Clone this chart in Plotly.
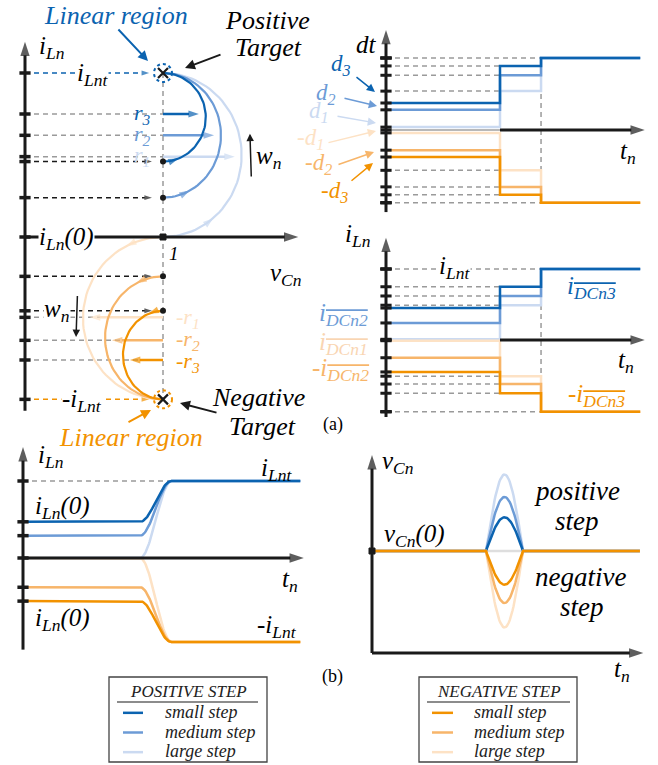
import numpy as np
import plotly.graph_objects as go

W, H = 658, 765
SERIF = "Liberation Serif, DejaVu Serif, serif"
BLUE = ['#0b63b0', '#6c9bd6', '#cbdaf1']      # small, medium, large step
ORANGE = ['#f29200', '#f7b56a', '#fde2c5']
GREY = '#9a9a9a'
AX = '#1a1a1a'
DASH = '5px,4px'
STEP_NAMES = ['small step', 'medium step', 'large step']
LEGEND_TITLES = ['POSITIVE STEP', 'NEGATIVE STEP']
M = 25     # math label size
WD = 26    # word label size

# ---------------- (a) phase plane ----------------
v_target = 1.0
i_target = 1.0
i_target_neg = -0.99
pos_start = [0.46, 0.24, 0.0]
pos_r = [0.75, 0.62, 0.49]
pos_rx = [0.31, 0.42, 0.57]
neg_start = [-0.45, -0.24, 0.0]
neg_r = [-0.75, -0.63, -0.49]
neg_rx = [0.29, 0.42, 0.58]
pos_r_labels = ['r<sub>3</sub>', 'r<sub>2</sub>', 'r<sub>1</sub>']
neg_r_labels = ['-r<sub>3</sub>', '-r<sub>2</sub>', '-r<sub>1</sub>']

# ---------------- (a) dt steps ----------------
t_steps = [0.0, 1.0, 1.36, 2.23]
dt_pos = [[0.375, 0.89, 1.0], [0.28, 0.76, 1.0], [0.04, 0.54, 1.0]]
dt_neg = [[-0.375, -0.90, -1.01], [-0.28, -0.79, -1.01], [-0.04, -0.56, -1.01]]

# ---------------- (a) iLn steps ----------------
iL_pos = [[0.45, 0.75, 1.0], [0.24, 0.62, 1.0], [0.01, 0.49, 1.0]]
iL_neg = [[-0.45, -0.75, -1.01], [-0.25, -0.62, -1.01], [-0.01, -0.51, -1.01]]

# ---------------- (b) time responses ----------------
t_rise = [1.0, 1.27]
t_end_b1 = 2.37
iLb_pos_init = [0.47, 0.29, 0.0]
iLb_neg_init = [-0.56, -0.38, 0.0]
iLb_pos_final = 1.0
iLb_neg_final = -1.09

t_bump = [1.0, 1.325]
t_end_b2 = 2.35
vC0 = 1.0
vC_pos_peak = [1.33, 1.53, 1.75]
vC_neg_peak = [0.67, 0.49, 0.25]

# panel geometry (pixel box, origin and unit in px)
panels = {
    1: dict(box=(0, 0, 330, 450), ox=25, ux=138, oy=237, uy=164),
    2: dict(box=(300, 0, 658, 222), ox=386, ux=114, oy=130, uy=72),
    3: dict(box=(300, 226, 658, 440), ox=386, ux=114, oy=340, uy=71),
    4: dict(box=(0, 442, 325, 662), ox=23, ux=117, oy=558, uy=77),
    5: dict(box=(330, 442, 658, 672), ox=372, ux=114, oy=653, uy=102),
}

fig = go.Figure()
axes_layout = {}
for p, d in panels.items():
    l, t, r, b = d['box']
    s = '' if p == 1 else str(p)
    axes_layout['xaxis' + s] = dict(domain=[l / W, r / W],
                                     range=[(l - d['ox']) / d['ux'], (r - d['ox']) / d['ux']],
                                     visible=False, anchor='y' + s, fixedrange=True)
    axes_layout['yaxis' + s] = dict(domain=[1 - b / H, 1 - t / H],
                                     range=[(d['oy'] - b) / d['uy'], (d['oy'] - t) / d['uy']],
                                     visible=False, anchor='x' + s, fixedrange=True)

# legend key axes (categorical rows)
legend_geo = {6: dict(sw=(123, 143), box=(109, 677, 267, 762), text_x=164, title_x=188, ul=(117, 258)),
              7: dict(sw=(432, 453), box=(419, 677, 577, 762), text_x=473, title_x=499, ul=(427, 570))}
for p, g in legend_geo.items():
    axes_layout['xaxis%d' % p] = dict(domain=[g['sw'][0] / W, g['sw'][1] / W], range=[0, 1],
                                      visible=False, anchor='y%d' % p, fixedrange=True)
    axes_layout['yaxis%d' % p] = dict(domain=[1 - 762 / H, 1 - 703 / H], type='category',
                                      categoryorder='array', categoryarray=STEP_NAMES[::-1],
                                      range=[-0.5, 2.5], visible=False, anchor='x%d' % p,
                                      fixedrange=True)


def ax_id(p):
    return ('x', 'y') if p == 1 else ('x%d' % p, 'y%d' % p)


def add_line(p, x, y, color, width=2.0, dash='solid', arrow_idx=None, arrow_size=10,
             shape='linear', **kw):
    xa, ya = ax_id(p)
    x = list(x)
    y = list(y)
    if arrow_idx is not None:
        sizes = [0] * len(x)
        idx = arrow_idx if arrow_idx >= 0 else len(x) + arrow_idx
        sizes[idx] = arrow_size
        mode = 'lines+markers'
        marker = dict(symbol='arrow', size=sizes, angleref='previous', color=color,
                      line=dict(width=0))
    else:
        mode = 'lines'
        marker = None
    fig.add_trace(go.Scatter(x=x, y=y, xaxis=xa, yaxis=ya, mode=mode,
                             line=dict(color=color, width=width, dash=dash, shape=shape),
                             marker=marker, hoverinfo='skip', showlegend=False, **kw))


def add_marks(p, x, y, symbol='line-ew', size=8, width=3.5, color=AX):
    xa, ya = ax_id(p)
    fig.add_trace(go.Scatter(x=list(x), y=list(y), xaxis=xa, yaxis=ya, mode='markers',
                             marker=dict(symbol=symbol, size=size, color=color,
                                         line=dict(width=width, color=color)),
                             hoverinfo='skip', showlegend=False))


annotations = []


def txt(s, x, y, size=M, color='black', bg=None, xanchor='center', yanchor='middle'):
    a = dict(text=s, x=x / W, y=1 - y / H, xref='paper', yref='paper', showarrow=False,
             font=dict(family=SERIF, size=size, color=color), xanchor=xanchor, yanchor=yanchor,
             borderpad=0)
    if bg:
        a['bgcolor'] = bg
    annotations.append(a)


def parrow(x0, y0, x1, y1, color, width=1.5, size=1.0):
    annotations.append(dict(x=x1 / W, y=1 - y1 / H, xref='paper', yref='paper',
                            ax=x0 - x1, ay=y0 - y1, axref='pixel', ayref='pixel', text='',
                            showarrow=True, arrowhead=2, arrowsize=size, arrowwidth=width,
                            arrowcolor=color, standoff=0, startstandoff=0))


def darrow(p, x0, y0, x1, y1, color=AX, width=1.5):
    xa, ya = ax_id(p)
    annotations.append(dict(x=x1, y=y1, ax=x0, ay=y0, xref=xa, yref=ya, axref=xa, ayref=ya,
                            text='', showarrow=True, arrowhead=2, arrowsize=1, arrowwidth=width,
                            arrowcolor=color, standoff=0, startstandoff=0))


# ======================= Panel 1: phase plane =======================
add_line(1, [v_target, v_target], [i_target, i_target_neg], GREY, 1.5, DASH)
for k in range(3):
    add_line(1, [0, v_target], [pos_r[k]] * 2, GREY, 1.5, DASH)
    add_line(1, [0, v_target], [neg_r[k]] * 2, GREY, 1.5, DASH)
for k in range(2):
    add_line(1, [0, v_target - 0.08], [pos_start[k]] * 2, AX, 1.5, DASH, arrow_idx=-1, arrow_size=8)
    add_line(1, [0, v_target - 0.08], [neg_start[k]] * 2, AX, 1.5, DASH, arrow_idx=-1, arrow_size=8)
add_line(1, [0, v_target - 0.1], [i_target] * 2, BLUE[0], 1.5, DASH, arrow_idx=-1, arrow_size=8)
add_line(1, [0, v_target - 0.1], [i_target_neg] * 2, ORANGE[0], 1.5, DASH, arrow_idx=-1, arrow_size=8)

theta = np.linspace(-np.pi / 2, np.pi / 2, 60)
pos_arrow_idx = [7, 9, 13]
neg_arrow_idx = [7, 9, 9]
for k in [2, 1, 0]:
    c = (pos_start[k] + i_target) / 2
    ry = (i_target - pos_start[k]) / 2
    add_line(1, v_target + pos_rx[k] * np.cos(theta), c + ry * np.sin(theta), BLUE[k], 2.2,
             arrow_idx=pos_arrow_idx[k], arrow_size=11)
    add_line(1, [v_target, v_target + pos_rx[k] - 0.05], [pos_r[k]] * 2, BLUE[k], 2.5,
             arrow_idx=-1, arrow_size=11)
for k in [2, 1, 0]:
    c = (neg_start[k] + i_target_neg) / 2
    ry = (neg_start[k] - i_target_neg) / 2
    add_line(1, v_target - neg_rx[k] * np.cos(theta), c - ry * np.sin(theta), ORANGE[k], 2.2,
             arrow_idx=neg_arrow_idx[k], arrow_size=11)
    add_line(1, [v_target, v_target - neg_rx[k] + 0.05], [neg_r[k]] * 2, ORANGE[k], 2.5,
             arrow_idx=-1, arrow_size=11)

add_line(1, [0, 0], [-1.06, 1.19], AX, 3, arrow_idx=-1, arrow_size=15)
add_line(1, [0, 1.98], [0, 0], AX, 3, arrow_idx=-1, arrow_size=15)
ticks1 = [i_target] + pos_r + pos_start[:2] + [0] + neg_start[:2] + neg_r + [i_target_neg]
add_marks(1, [0] * len(ticks1), ticks1)
add_marks(1, [v_target], [0], symbol='square', size=6, width=1)
add_marks(1, [v_target] * 4, pos_start[:2] + neg_start[:2], symbol='circle', size=6, width=0)
add_marks(1, [v_target, v_target], [i_target, i_target_neg], symbol='x-thin', size=10, width=2.2)

shapes = []
for yv, col in [(i_target, BLUE[0]), (i_target_neg, ORANGE[0])]:
    shapes.append(dict(type='circle', xref='x', yref='y', xsizemode='pixel', ysizemode='pixel',
                       xanchor=v_target, yanchor=yv, x0=-9, x1=9, y0=-9, y1=9,
                       line=dict(color=col, width=2, dash='3px,3px')))

txt('<i>i<sub>Ln</sub></i>', 52, 47)
txt('<i>i<sub>Lnt</sub></i>', 92, 75, bg='white')
for k in range(3):
    txt('<i>' + pos_r_labels[k] + '</i>', 142, 114 + 21 * k, 22, BLUE[k])
    txt('<i>' + neg_r_labels[k] + '</i>', 188, 362 - 22 * k, 22, ORANGE[k])
txt('<i>w<sub>n</sub></i>', 269, 158)
darrow(1, 1.64, 0.36, 1.63, 0.63)
txt('<i>w<sub>n</sub></i>', 57, 310, bg='white')
darrow(1, 0.38, -0.35, 0.37, -0.61)
txt('<i>i<sub>Ln</sub>(0)</i>', 66, 238, bg='white')
txt('<i>1</i>', 174, 254, 19)
txt('<i>v<sub>Cn</sub></i>', 286, 274)
txt('<i>-i<sub>Lnt</sub></i>', 82, 400, bg='white')
txt('<i>Linear region</i>', 116, 15, WD, BLUE[0])
parrow(117, 28, 148, 61, BLUE[0], 2, 1.0)
txt('<i>Positive</i>', 267, 20, WD)
txt('<i>Target</i>', 268, 47, WD)
parrow(222, 54, 185, 68, AX, 2, 1.0)
txt('<i>Negative</i>', 258, 397, WD)
txt('<i>Target</i>', 262, 426, WD)
parrow(218, 413, 180, 403, AX, 2, 1.0)
txt('<i>Linear region</i>', 131, 437, WD, ORANGE[0])
parrow(127, 423, 151, 410, ORANGE[0], 2, 1.0)

# ======================= Panel 2: dt steps =======================
for k in range(3):
    add_line(2, [0, t_steps[1]], [dt_pos[k][1]] * 2, GREY, 1.5, DASH)
    add_line(2, [0, t_steps[1]], [dt_neg[k][1]] * 2, GREY, 1.5, DASH)
add_line(2, [0, t_steps[2]], [dt_pos[0][2]] * 2, GREY, 1.5, DASH)
add_line(2, [0, t_steps[2]], [dt_neg[0][2]] * 2, GREY, 1.5, DASH)
add_line(2, [t_steps[2]] * 2, [dt_pos[0][2], dt_neg[0][2]], GREY, 1.5, DASH)
add_line(2, [0, t_steps[1]], [0, 0], '#a0a0a0', 1.3)
for k in [2, 1, 0]:
    add_line(2, t_steps, dt_pos[k] + [dt_pos[k][2]], BLUE[k], 2.5, shape='hv')
    add_line(2, t_steps, dt_neg[k] + [dt_neg[k][2]], ORANGE[k], 2.5, shape='hv')
add_line(2, [0, 0], [-1.14, 1.39], AX, 3, arrow_idx=-1, arrow_size=15)
add_line(2, [t_steps[1], 2.27], [0, 0], AX, 3, arrow_idx=-1, arrow_size=15)
ticks2 = [0] + [v for row in dt_pos + dt_neg for v in row]
add_marks(2, [0] * len(ticks2), ticks2, width=3)

DL = 23
txt('<i>dt</i>', 366, 44)
txt('<i>d<sub>3</sub></i>', 341, 65, DL, BLUE[0])
txt('<i>d<sub>2</sub></i>', 326, 94, DL, BLUE[1])
txt('<i>d<sub>1</sub></i>', 319, 112, DL, BLUE[2])
txt('<i>-d<sub>1</sub></i>', 310, 139, DL, ORANGE[2])
txt('<i>-d<sub>2</sub></i>', 318, 164, DL, ORANGE[1])
txt('<i>-d<sub>3</sub></i>', 334, 192, DL, ORANGE[0])
parrow(355, 76, 375, 92, BLUE[0], 1.5, 1.1)
parrow(343, 98, 377, 106, BLUE[1], 1.5, 1.1)
parrow(336, 116, 376, 123, BLUE[2], 1.5, 1.1)
parrow(327, 143, 376, 131, ORANGE[2], 1.5, 1.1)
parrow(337, 165, 374, 152, ORANGE[1], 1.5, 1.1)
parrow(350, 182, 373, 163, ORANGE[0], 1.5, 1.1)
txt('<i>t<sub>n</sub></i>', 628, 153)

# ======================= Panel 3: iLn steps =======================
for k in range(3):
    add_line(3, [0, t_steps[1]], [iL_pos[k][1]] * 2, GREY, 1.5, DASH)
    add_line(3, [0, t_steps[1]], [iL_neg[k][1]] * 2, GREY, 1.5, DASH)
add_line(3, [0, t_steps[2]], [iL_pos[0][2]] * 2, GREY, 1.5, DASH)
add_line(3, [0, t_steps[2]], [iL_neg[0][2]] * 2, GREY, 1.5, DASH)
add_line(3, [t_steps[2]] * 2, [iL_pos[0][2], iL_neg[0][2]], GREY, 1.5, DASH)
add_line(3, [0, t_steps[1]], [0, 0], '#b0a898', 1.3)
for k in [2, 1, 0]:
    add_line(3, t_steps, iL_pos[k] + [iL_pos[k][2]], BLUE[k], 2.5, shape='hv')
    add_line(3, t_steps, iL_neg[k] + [iL_neg[k][2]], ORANGE[k], 2.5, shape='hv')
add_line(3, [0, 0], [-1.085, 1.44], AX, 3, arrow_idx=-1, arrow_size=15)
add_line(3, [t_steps[1], 2.27], [0, 0], AX, 3, arrow_idx=-1, arrow_size=15)
ticks3 = [0] + [v for row in iL_pos + iL_neg for v in row]
add_marks(3, [0] * len(ticks3), ticks3, width=3)

OV = "<span style='text-decoration:overline'>%s</span>"
txt('<i>i<sub>Ln</sub></i>', 358, 235)
txt('<i>i<sub>Lnt</sub></i>', 454, 267, bg='white')
txt('<i>i<sub>' + OV % 'DCn3' + '</sub></i>', 591, 287, M, BLUE[0])
txt('<i>i<sub>' + OV % 'DCn2' + '</sub></i>', 343, 314, M, BLUE[1])
txt('<i>i<sub>' + OV % 'DCn1' + '</sub></i>', 343, 344, M, '#f9d5b2')
txt('<i>-i<sub>' + OV % 'DCn2' + '</sub></i>', 340, 369, M, ORANGE[1])
txt('<i>-i<sub>' + OV % 'DCn3' + '</sub></i>', 596, 395, M, ORANGE[0])
txt('<i>t<sub>n</sub></i>', 626, 361)
txt('(a)', 333, 424, 18)

# ======================= Panel 4: iLn(t) =======================
def smooth_step(y0, y1, n=40):
    u = np.linspace(0, 1, n)
    xs = np.concatenate([[0.0], t_rise[0] + (t_rise[1] - t_rise[0]) * u, [t_end_b1]])
    ys = np.concatenate([[y0], y0 + (y1 - y0) * (1 - np.cos(np.pi * u)) / 2, [y1]])
    return xs, ys


add_line(4, [0, t_rise[1]], [iLb_pos_final] * 2, GREY, 1.5, DASH)
for k in [2, 1, 0]:
    xs, ys = smooth_step(iLb_pos_init[k], iLb_pos_final)
    add_line(4, xs, ys, BLUE[k], 2.5)
for k in [2, 1, 0]:
    xs, ys = smooth_step(iLb_neg_init[k], iLb_neg_final)
    add_line(4, xs, ys, ORANGE[k], 2.5)
add_line(4, [0, 0], [-1.19, 1.44], AX, 3, arrow_idx=-1, arrow_size=15)
add_line(4, [0, 2.40], [0, 0], AX, 3, arrow_idx=-1, arrow_size=15)
ticks4 = [iLb_pos_final] + iLb_pos_init + iLb_neg_init[:2]
add_marks(4, [0] * len(ticks4), ticks4)

txt('<i>i<sub>Ln</sub></i>', 51, 456)
txt('<i>i<sub>Lnt</sub></i>', 276, 469)
txt('<i>i<sub>Ln</sub>(0)</i>', 62, 507)
txt('<i>i<sub>Ln</sub>(0)</i>', 62, 619)
txt('<i>-i<sub>Lnt</sub></i>', 277, 626)
txt('<i>t<sub>n</sub></i>', 290, 580)

# ======================= Panel 5: vCn(t) =======================
def bump(peak, n=40):
    u = np.linspace(0, 1, n)
    xs = np.concatenate([[0.0], t_bump[0] + (t_bump[1] - t_bump[0]) * u, [t_end_b2]])
    ys = np.concatenate([[vC0], vC0 + (peak - vC0) * np.sin(np.pi * u), [vC0]])
    return xs, ys


add_line(5, t_bump, [vC0] * 2, '#dedede', 2.5)
for k in [2, 1, 0]:
    xs, ys = bump(vC_pos_peak[k])
    add_line(5, xs, ys, BLUE[k], 2.5)
for k in [2, 1, 0]:
    xs, ys = bump(vC_neg_peak[k])
    add_line(5, xs, ys, ORANGE[k], 2.5)
add_line(5, [0, 0], [0, 1.94], AX, 3, arrow_idx=-1, arrow_size=15)
add_line(5, [0, 2.38], [0, 0], AX, 3, arrow_idx=-1, arrow_size=15)
add_marks(5, [0], [vC0], symbol='square', size=6, width=1)

txt('<i>v<sub>Cn</sub></i>', 398, 462)
txt('<i>v<sub>Cn</sub>(0)</i>', 414, 535)
txt('<i>positive</i>', 577, 491, 27)
txt('<i>step</i>', 577, 521, 27)
txt('<i>negative</i>', 580, 577, 27)
txt('<i>step</i>', 582, 607, 27)
txt('<i>t<sub>n</sub></i>', 622, 670)
txt('(b)', 333, 676, 18)

# ======================= legends =======================
for j, (p, g) in enumerate(legend_geo.items()):
    cols = BLUE if j == 0 else ORANGE
    l, t, r, b = g['box']
    shapes.append(dict(type='rect', xref='paper', yref='paper', x0=l / W, x1=r / W,
                       y0=1 - b / H, y1=1 - t / H, line=dict(color='#444', width=1.3),
                       fillcolor='white', layer='below'))
    shapes.append(dict(type='line', xref='paper', yref='paper', x0=g['ul'][0] / W, x1=g['ul'][1] / W,
                       y0=1 - 702 / H, y1=1 - 702 / H, line=dict(color=AX, width=1.2)))
    txt('<i>' + LEGEND_TITLES[j] + '</i>', g['title_x'], 691, 17, '#222')
    for k in range(3):
        add_line(p, [0, 1], [STEP_NAMES[k]] * 2, cols[k], 2.5)
        txt('<i>' + STEP_NAMES[k] + '</i>', g['text_x'], 712 + 19.5 * k, 18, '#222', xanchor='left')

fig.update_layout(
    width=W, height=H, margin=dict(l=0, r=0, t=0, b=0),
    paper_bgcolor='white', plot_bgcolor='rgba(0,0,0,0)', showlegend=False,
    annotations=annotations, shapes=shapes,
    **axes_layout,
)

fig.write_html("out.html")
